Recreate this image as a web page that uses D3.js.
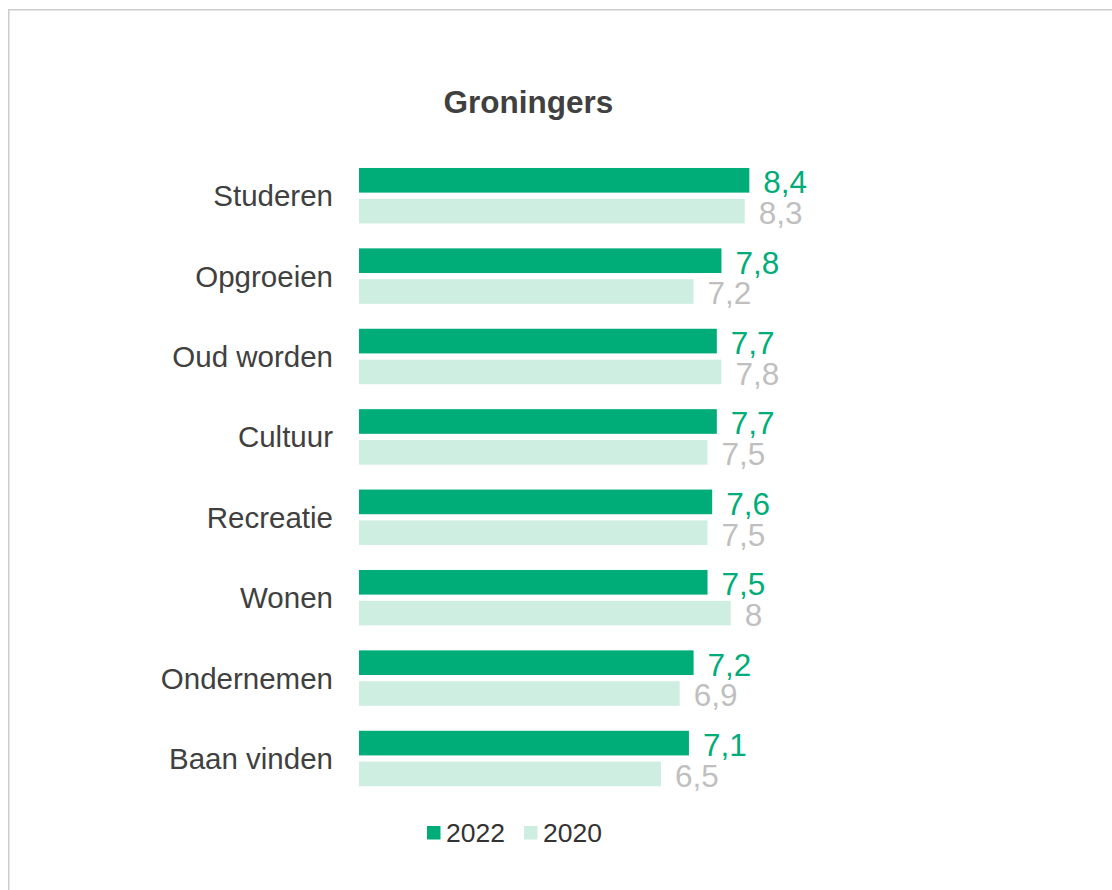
<!DOCTYPE html>
<meta charset="utf-8">
<script src="https://d3js.org/d3.v7.min.js"></script>
<style>
  body { margin: 0; background: #fff; }
  text { font-family: "Liberation Sans", Arial, sans-serif; }
</style>
<div id="vis"></div>
<script>

    // data
    var categories = ["Studeren", "Opgroeien", "Oud worden", "Cultuur", "Recreatie", "Wonen", "Ondernemen", "Baan vinden"];
    var values2022 = [8.4, 7.8, 7.7, 7.7, 7.6, 7.5, 7.2, 7.1];
    var values2020 = [8.3, 7.2, 7.8, 7.5, 7.5, 8, 6.9, 6.5];
    var seriesNames = ["2022", "2020"];
    var seriesColors = ["#00ad78", "#cfeee2"];
    var labelColors = ["#00ad78", "#bfbfbf"];

    var W = 1112, H = 890;

    var data = categories.map(function (c, i) {
        return { cat: c, vals: [values2022[i], values2020[i]] };
    });

    var svg = d3.select("#vis")
        .append("svg")
        .attr("width", W)
        .attr("height", H);

    // light frame, running off the right and bottom edges
    svg.append("rect")
        .attr("x", 8.75)
        .attr("y", 9.75)
        .attr("width", 1300)
        .attr("height", 1000)
        .style("fill", "none")
        .style("stroke", "#cccccc")
        .style("stroke-width", 1.5);

    // title
    svg.append("text")
        .attr("x", 528.5)
        .attr("y", 113)
        .attr("text-anchor", "middle")
        .style("font-size", "31.5px")
        .style("font-weight", "bold")
        .style("fill", "#404040")
        .text("Groningers");

    // scales
    var x = d3.scaleLinear()
        .domain([0, 10])
        .range([359, 359 + 464.7]);

    var y = d3.scaleBand()
        .domain(categories)
        .range([155.5, 155.5 + 8 * 80.4])
        .paddingInner(0.31)
        .paddingOuter(0.155);

    var ySub = d3.scaleBand()
        .domain(seriesNames)
        .range([0, y.bandwidth()])
        .paddingInner(0.2);

    var fmt = function (v) { return String(v).replace(".", ","); };

    // category labels
    svg.append("g")
        .selectAll("text")
        .data(data)
        .join("text")
        .attr("x", 333)
        .attr("y", function (d) { return y(d.cat) + y.bandwidth() / 2 + 10.5; })
        .attr("text-anchor", "end")
        .style("font-size", "29.5px")
        .style("fill", "#404040")
        .text(function (d) { return d.cat; });

    // bars + value labels
    var groups = svg.append("g")
        .selectAll("g")
        .data(data)
        .join("g")
        .attr("transform", function (d) { return "translate(0," + y(d.cat) + ")"; });

    seriesNames.forEach(function (s, si) {
        groups.append("rect")
            .attr("x", x(0))
            .attr("y", ySub(s))
            .attr("width", function (d) { return x(d.vals[si]) - x(0); })
            .attr("height", ySub.bandwidth())
            .style("fill", seriesColors[si]);

        groups.append("text")
            .attr("x", function (d) { return x(d.vals[si]) + 14; })
            .attr("y", ySub(s) + ySub.bandwidth() + 0.5)
            .style("font-size", "31.5px")
            .style("fill", labelColors[si])
            .text(function (d) { return fmt(d.vals[si]); });
    });

    // legend
    var legendX = [427, 524];
    var legend = svg.append("g")
        .selectAll("g")
        .data(seriesNames)
        .join("g")
        .attr("transform", function (d, i) { return "translate(" + legendX[i] + ",826)"; });

    legend.append("rect")
        .attr("width", 13.5)
        .attr("height", 13.5)
        .style("fill", function (d, i) { return seriesColors[i]; });

    legend.append("text")
        .attr("x", 19)
        .attr("y", 15.5)
        .style("font-size", "26.5px")
        .style("fill", "#333333")
        .text(function (d) { return d; });

</script>
